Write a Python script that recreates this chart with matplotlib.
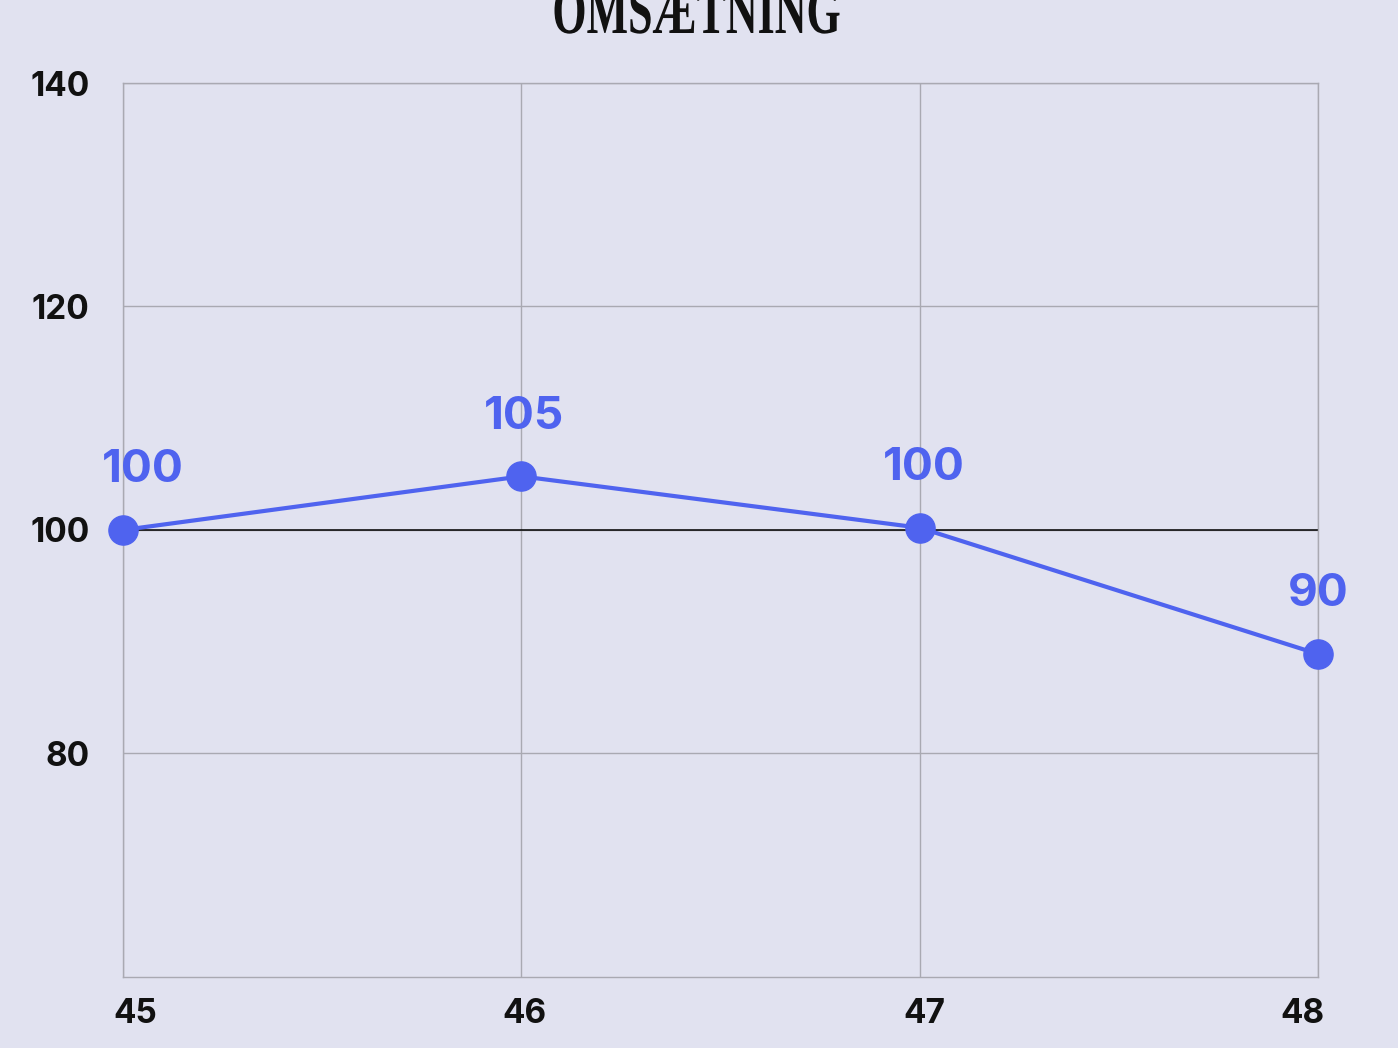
import matplotlib
matplotlib.use("Agg")
import matplotlib.pyplot as plt
import matplotlib.transforms as mtransforms
from matplotlib.textpath import TextPath
from matplotlib.patches import PathPatch
from matplotlib.font_manager import FontProperties

# Week numbers and index values
weeks = ["45", "46", "47", "48"]
values = [100, 104.8, 100.2, 88.9]
value_labels = ["100", "105", "100", "90"]
y_ticks = [80, 100, 120, 140]
title = "OMSÆTNING"

bg = "#E1E2F0"
line_color = "#4F63EF"
grid_color = "#A9A9B2"

plt.rcParams["font.family"] = ["Inter", "DejaVu Sans"]

fig = plt.figure(figsize=(13.98, 10.48), dpi=100, facecolor=bg)
ax = fig.add_axes([0.088, 0.0678, 0.8548, 0.853], facecolor=bg)

x = list(range(len(weeks)))

# Grid and reference line at 100
for xi in x:
    ax.axvline(xi, color=grid_color, lw=1, zorder=1)
for yt in y_ticks:
    ax.axhline(yt, color=grid_color, lw=1, zorder=1)
ax.axhline(100, color="black", lw=1.1, zorder=2)

ax.plot(x, values, color=line_color, lw=3, marker="o", markersize=21,
        zorder=3, clip_on=False)

# Value labels above each point
label_shift = [14, 2, 3, 0]
for xi, v, lab, dx in zip(x, values, value_labels, label_shift):
    ax.annotate(lab, (xi, v), xytext=(dx, 43), textcoords="offset points",
                ha="center", va="center", color=line_color, fontsize=33,
                fontweight="bold", zorder=4)

ax.set_xlim(0, len(weeks) - 1)
ax.set_ylim(60, 140)
ax.set_xticks(x)
ax.set_xticklabels(weeks)
ax.set_yticks(y_ticks)
ax.tick_params(axis="both", length=0, labelsize=24, labelcolor="#111111")
ax.tick_params(axis="x", pad=15)
ax.tick_params(axis="y", pad=24)
for lab in ax.get_xticklabels() + ax.get_yticklabels():
    lab.set_fontweight("bold")

# Nudge the outer x labels inward like the original
xlabs = ax.get_xticklabels()
shifts = [12, 3, 5, -16]
for lab, s in zip(xlabs, shifts):
    lab.set_transform(lab.get_transform() +
                      mtransforms.ScaledTranslation(s / 100, 0, fig.dpi_scale_trans))

for sp in ax.spines.values():
    sp.set_color(grid_color)
    sp.set_linewidth(1)

# Condensed serif title, partly cut off at the top edge
tp = TextPath((0, 0), title, size=40,
              prop=FontProperties(family=["Liberation Serif", "DejaVu Serif"], weight="bold"))
ext = tp.get_extents()
sx = 285 / ext.width
sy = 46 / ext.height
tr = (mtransforms.Affine2D().translate(-ext.x0 - ext.width / 2, -0.0)
      .scale(sx, sy).translate(697, 1048 - 33))
fig.patches.append(PathPatch(tp, transform=tr, facecolor="#111111",
                             edgecolor="none", figure=fig))

fig.savefig("out.png", dpi=100, facecolor=bg)
